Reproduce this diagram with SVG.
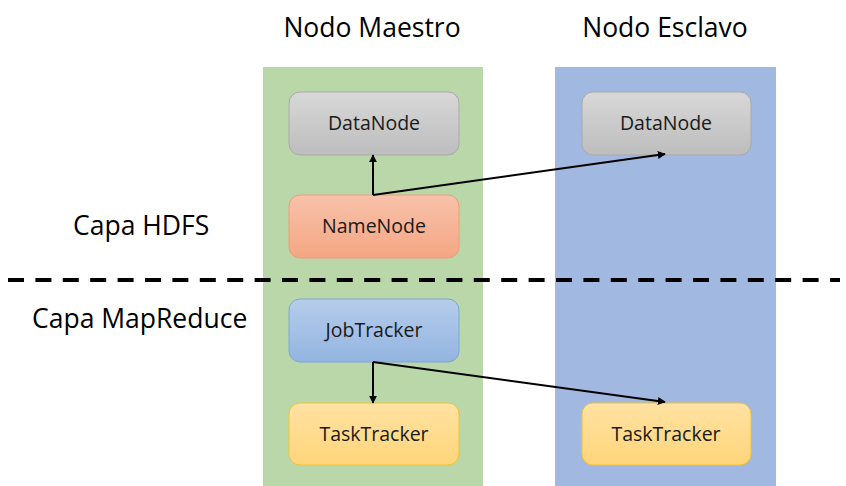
<svg xmlns="http://www.w3.org/2000/svg" width="846" height="486" viewBox="0 0 846 486">
<defs>
<linearGradient id="gGray" x1="0" y1="0" x2="0" y2="1"><stop offset="0" stop-color="#d8d8d8"/><stop offset="1" stop-color="#bdbdbd"/></linearGradient>
<linearGradient id="gOrange" x1="0" y1="0" x2="0" y2="1"><stop offset="0" stop-color="#f8c2aa"/><stop offset="1" stop-color="#f4a683"/></linearGradient>
<linearGradient id="gBlue" x1="0" y1="0" x2="0" y2="1"><stop offset="0" stop-color="#b6cdec"/><stop offset="1" stop-color="#93b4e0"/></linearGradient>
<linearGradient id="gYellow" x1="0" y1="0" x2="0" y2="1"><stop offset="0" stop-color="#ffe2a2"/><stop offset="1" stop-color="#ffd57a"/></linearGradient>
<marker id="arr" viewBox="0 0 10 10" refX="9" refY="5" markerWidth="8" markerHeight="8" markerUnits="userSpaceOnUse" orient="auto"><path d="M0,0 L10,5 L0,10 z" fill="#000"/></marker>
</defs>
<style>
.head{font-family:"Open Sans","Liberation Sans",sans-serif;font-size:26.5px;fill:#000}
.lbl{font-family:"Open Sans","Liberation Sans",sans-serif;font-size:19.5px;fill:#1a1a1a;text-anchor:middle}
.box{stroke-width:1}
.gray{fill:url(#gGray);stroke:#a9a9a9}
.orange{fill:url(#gOrange);stroke:#ee9c78}
.blue{fill:url(#gBlue);stroke:#7ea6d8}
.yellow{fill:url(#gYellow);stroke:#f0c235}
.conn{stroke:#000;stroke-width:2;fill:none}
</style>
<rect width="846" height="486" fill="#fff"/>
<g id="columns">
<rect x="263" y="67" width="220" height="419" fill="#b9d7a8"/>
<rect x="555" y="67" width="221" height="419" fill="#a1b8e0"/>
</g>
<g id="headings">
<text class="head" x="372" y="37" text-anchor="middle">Nodo Maestro</text>
<text class="head" x="665" y="37" text-anchor="middle">Nodo Esclavo</text>
<text class="head" x="73" y="235">Capa HDFS</text>
<text class="head" x="32" y="328">Capa MapReduce</text>
</g>
<line x1="8" y1="280" x2="840" y2="280" stroke="#000" stroke-width="4" stroke-dasharray="16 11.4"/>
<g id="master-datanode"><rect class="box gray" x="289" y="92" width="170" height="63" rx="11"/><text class="lbl" x="374" y="130">DataNode</text></g>
<g id="namenode"><rect class="box orange" x="289" y="195" width="170" height="63" rx="11"/><text class="lbl" x="374" y="233">NameNode</text></g>
<g id="jobtracker"><rect class="box blue" x="289" y="299" width="170" height="63" rx="11"/><text class="lbl" x="374" y="337">JobTracker</text></g>
<g id="master-tasktracker"><rect class="box yellow" x="289" y="403" width="170" height="62" rx="11"/><text class="lbl" x="374" y="441">TaskTracker</text></g>
<g id="slave-datanode"><rect class="box gray" x="582" y="92" width="169" height="63" rx="11"/><text class="lbl" x="666" y="130">DataNode</text></g>
<g id="slave-tasktracker"><rect class="box yellow" x="582" y="403" width="169" height="62" rx="11"/><text class="lbl" x="666" y="441">TaskTracker</text></g>
<g id="connectors">
<line class="conn" x1="373" y1="195" x2="373" y2="155" marker-end="url(#arr)"/>
<line class="conn" x1="373" y1="195" x2="665" y2="154" marker-end="url(#arr)"/>
<line class="conn" x1="373" y1="362" x2="373" y2="403" marker-end="url(#arr)"/>
<line class="conn" x1="373" y1="362" x2="665" y2="402" marker-end="url(#arr)"/>
</g>
</svg>
